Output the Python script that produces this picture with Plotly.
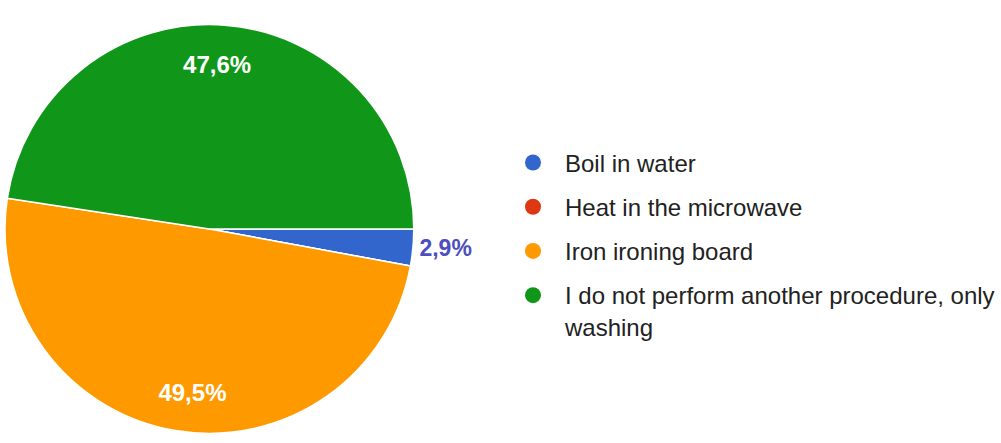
import plotly.graph_objects as go

categories = ["Boil in water", "Heat in the microwave", "Iron ironing board",
              "I do not perform another procedure, only washing"]
legend_labels = ["Boil in water", "Heat in the microwave", "Iron ironing board",
                 "I do not perform another procedure, only<br>washing"]
values = [2.9, 0.0, 49.5, 47.6]
value_text = ["2,9%", "", " <br> <br> <br> <br>49,5%", "47,6%<br> <br> <br> <br> "]
colors = ["#3366cc", "#dc3912", "#ff9900", "#109618"]

FONT = "Liberation Sans, Arial, sans-serif"

fig = go.Figure()

fig.add_trace(go.Pie(
    labels=categories,
    values=values,
    text=value_text,
    textinfo="text",
    textposition=["outside", "inside", "inside", "inside"],
    insidetextorientation="horizontal",
    sort=False,
    direction="clockwise",
    rotation=90,
    marker=dict(colors=colors, line=dict(color="white", width=1.5)),
    textfont=dict(family=FONT, size=24, weight="bold"),
    insidetextfont=dict(color="white", family=FONT, size=24, weight="bold"),
    outsidetextfont=dict(color="#4b4fc0", family=FONT, size=23, weight="bold"),
    showlegend=False,
    hoverinfo="label+percent",
    domain=dict(x=[0.002, 0.4116], y=[0.0203, 0.9458]),
))

for i, (lab, col) in enumerate(zip(legend_labels, colors)):
    fig.add_trace(go.Scatter(
        x=[None], y=[None], mode="markers", name=lab,
        marker=dict(color=col, size=16, symbol="circle"),
        legendgroup=f"g{i}", showlegend=True,
    ))

fig.update_layout(
    width=1001, height=443,
    margin=dict(l=0, r=0, t=0, b=0),
    paper_bgcolor="white", plot_bgcolor="white",
    xaxis=dict(visible=False), yaxis=dict(visible=False),
    legend=dict(
        x=0.499, y=0.683, xanchor="left", yanchor="top",
        font=dict(family=FONT, size=24, color="#222222"),
        traceorder="grouped", tracegroupgap=10, valign="top",
        itemwidth=54,
        bgcolor="rgba(0,0,0,0)",
    ),
)

fig.write_html("out.html", config={"displayModeBar": False},
               post_script="document.body.style.margin='0';")
